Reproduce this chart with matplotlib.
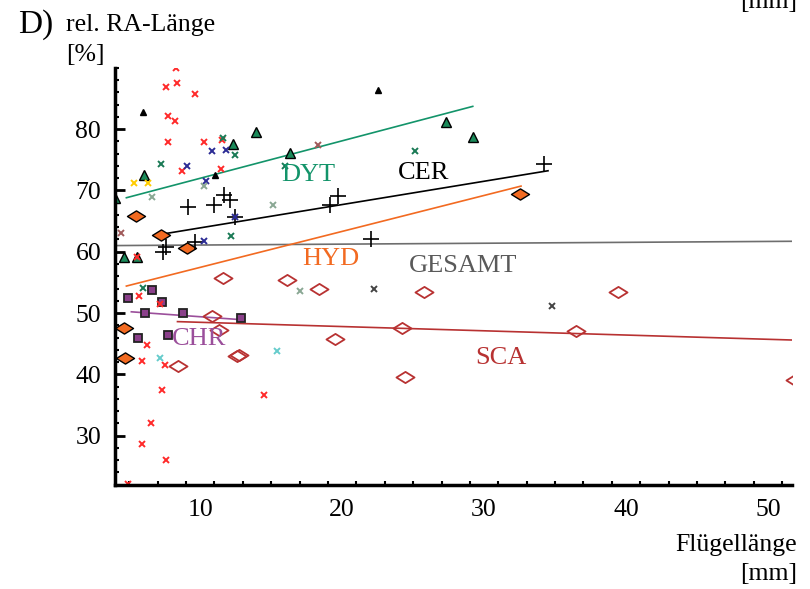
import matplotlib.pyplot as plt
from matplotlib.path import Path
from matplotlib.ticker import FixedLocator

plt.rcParams['font.family'] = ['Liberation Serif', 'DejaVu Serif']

# --- data (wing length mm, rel. RA length %) ---
dyt_x = [4.0, 4.6, 5.55, 6.05, 12.3, 13.9, 16.3, 27.3, 29.2]
dyt_y = [68.8, 59.2, 59.2, 72.5, 77.5, 79.5, 76.1, 81.1, 78.7]
tri_small_x = [6.0, 11.06, 22.5]
tri_small_y = [82.8, 72.5, 86.4]

cer_x = [9.15, 11.0, 11.7, 12.1, 12.45, 7.6, 7.4, 9.65, 19.7, 19.15, 22.0, 34.2]
cer_y = [67.3, 67.6, 69.2, 68.4, 65.7, 60.8, 59.9, 61.6, 69.1, 67.6, 62.1, 74.3]

hyd_x = [5.5, 7.25, 9.1, 4.65, 4.7, 32.5]
hyd_y = [65.8, 62.8, 60.6, 47.6, 42.7, 69.4]

sca_x = [11.6, 16.1, 18.4, 25.8, 10.85, 11.3, 12.6, 12.7, 8.45, 19.5, 24.2, 24.4, 36.5, 39.4, 51.9]
sca_y = [55.7, 55.4, 53.9, 53.4, 49.5, 47.3, 43.0, 43.2, 41.4, 45.8, 47.6, 39.6, 47.1, 53.4, 39.1]

chr_x = [4.9, 6.6, 7.3, 6.1, 8.8, 12.9, 5.6, 7.7]
chr_y = [52.5, 53.8, 51.8, 50.0, 50.0, 49.2, 46.0, 46.4]

red_x = [8.3, 8.4, 7.6, 9.6, 7.7, 8.25, 7.75, 10.3, 11.55, 8.7, 11.5, 5.55, 5.7, 7.2,
         6.25, 5.9, 7.55, 7.3, 14.5, 6.55, 5.9, 7.6, 4.9]
red_y = [90.0, 87.5, 86.8, 85.7, 82.1, 81.3, 77.9, 77.9, 78.2, 73.2, 73.5, 59.2, 52.8, 51.5,
         44.8, 42.2, 41.6, 37.5, 36.7, 32.1, 28.6, 26.0, 22.2]
navy_x = [9.1, 10.8, 11.8, 10.4, 12.45, 10.3]
navy_y = [74.0, 76.4, 76.6, 71.5, 65.7, 61.8]
green_x = [7.25, 12.45, 12.2, 16.0, 25.1, 6.0, 11.6]
green_y = [74.3, 75.8, 62.5, 74.0, 76.4, 54.1, 78.5]
sage_x = [6.6, 10.3, 15.1, 17.0]
sage_y = [68.9, 70.7, 67.6, 53.6]
dark_x = [22.25, 34.8]
dark_y = [54.0, 51.2]
brown_x = [18.3, 4.4]
brown_y = [77.4, 63.1]
yellow_x = [5.35, 6.35]
yellow_y = [71.2, 71.2]
cyan_x = [7.2, 15.4]
cyan_y = [42.7, 43.8]

# regression lines (endpoints)
dyt_line = ([4.8, 29.2], [68.8, 83.7])
cer_line = ([7.4, 34.5], [62.9, 73.2])
hyd_line = ([4.8, 32.6], [54.4, 70.7])
ges_line = ([4.0, 51.7], [61.0, 61.7])
sca_line = ([8.4, 51.7], [48.6, 45.6])
chr_line = ([5.15, 13.0], [50.2, 48.9])

c_dyt = '#13946a'
c_hyd = '#f26a21'
c_sca = '#b83232'
c_chr = '#9b4f9b'
c_ges = '#5a5a5a'

diamond = Path([(-1, 0), (0, 0.62), (1, 0), (0, -0.62), (-1, 0)],
               [Path.MOVETO, Path.LINETO, Path.LINETO, Path.LINETO, Path.CLOSEPOLY])

fig = plt.figure(figsize=(8.1, 5.89), dpi=100)
ax = fig.add_axes([0.142, 0.177, 0.836, 0.708])

ax.plot(*ges_line, color='#6e6e6e', lw=1.2)
ax.plot(*dyt_line, color=c_dyt, lw=1.2)
ax.plot(*cer_line, color='black', lw=1.2)
ax.plot(*hyd_line, color=c_hyd, lw=1.2)
ax.plot(*sca_line, color=c_sca, lw=1.2)
ax.plot(*chr_line, color=c_chr, lw=1.2)

ax.plot(sca_x, sca_y, ls='none', marker=diamond, ms=13, mfc='none', mec=c_sca, mew=1.3)
ax.plot(hyd_x, hyd_y, ls='none', marker=diamond, ms=13, mfc=c_hyd, mec='black', mew=1.0)
ax.plot(chr_x, chr_y, ls='none', marker='s', ms=6, mfc='#8a3f8a', mec='#222222', mew=1.3)
ax.plot(dyt_x, dyt_y, ls='none', marker='^', ms=7, mfc='#1b8a5a', mec='black', mew=1.0)
ax.plot(tri_small_x, tri_small_y, ls='none', marker='^', ms=5, mfc='black', mec='black')
ax.plot(cer_x, cer_y, ls='none', marker='+', ms=11, color='black', mew=1.2)

for xs, ys, col in [(red_x, red_y, '#ff2a2a'), (navy_x, navy_y, '#2c2c95'),
                    (green_x, green_y, '#1a7a55'), (sage_x, sage_y, '#8aa894'),
                    (dark_x, dark_y, '#444444'), (brown_x, brown_y, '#a05a5a'),
                    (yellow_x, yellow_y, '#ffcc00'), (cyan_x, cyan_y, '#66cccc')]:
    ax.plot(xs, ys, ls='none', marker='x', ms=5, color=col, mew=1.4)

ax.text(17.6, 72.5, 'DYT', color=c_dyt, fontsize=19, ha='center', va='center')
ax.text(25.7, 72.8, 'CER', color='black', fontsize=19, ha='center', va='center')
ax.text(19.2, 58.8, 'HYD', color=c_hyd, fontsize=19, ha='center', va='center')
ax.text(28.5, 57.7, 'GESAMT', color=c_ges, fontsize=19, ha='center', va='center')
ax.text(31.2, 42.7, 'SCA', color=c_sca, fontsize=19, ha='center', va='center')
ax.text(9.9, 45.8, 'CHR', color=c_chr, fontsize=19, ha='center', va='center')

ax.set_xlim(4.0, 51.7)
ax.set_ylim(22.0, 90.0)
for s in ['top', 'right']:
    ax.spines[s].set_visible(False)
for s in ['left', 'bottom']:
    ax.spines[s].set_linewidth(2.5)

ax.set_xticks([10, 20, 30, 40, 50])
ax.xaxis.set_minor_locator(FixedLocator(list(range(5, 52, 2))))
ax.set_yticks([30, 40, 50, 60, 70, 80])
ax.yaxis.set_minor_locator(FixedLocator(list(range(24, 91, 2))))
ax.tick_params(axis='x', which='major', length=0, labelsize=18.5, pad=10)
ax.tick_params(axis='x', which='minor', direction='in', length=3, width=1.5)
ax.tick_params(axis='y', which='major', direction='in', length=7, width=2, labelsize=18.5, pad=10)
ax.tick_params(axis='y', which='minor', direction='in', length=3, width=1.5)

fig.text(18 / 810, 1 - 25 / 589, 'D)', fontsize=24, va='center', ha='left')
fig.text(66 / 810, 1 - 25 / 589, 'rel. RA-Länge', fontsize=18.5, va='center', ha='left')
fig.text(66 / 810, 1 - 55 / 589, '[%]', fontsize=18.5, va='center', ha='left')
fig.text(797 / 810, 1 - 545 / 589, 'Flügellänge', fontsize=18.5, va='center', ha='right')
fig.text(797 / 810, 1 - 574 / 589, '[mm]', fontsize=18.5, va='center', ha='right')
# bottom of the previous panel's x label, cut by the top edge as in the reference
fig.text(797 / 810, 1 - 2 / 589, '[mm]', fontsize=18.5, va='center', ha='right')

fig.savefig('out.png', dpi=100)
